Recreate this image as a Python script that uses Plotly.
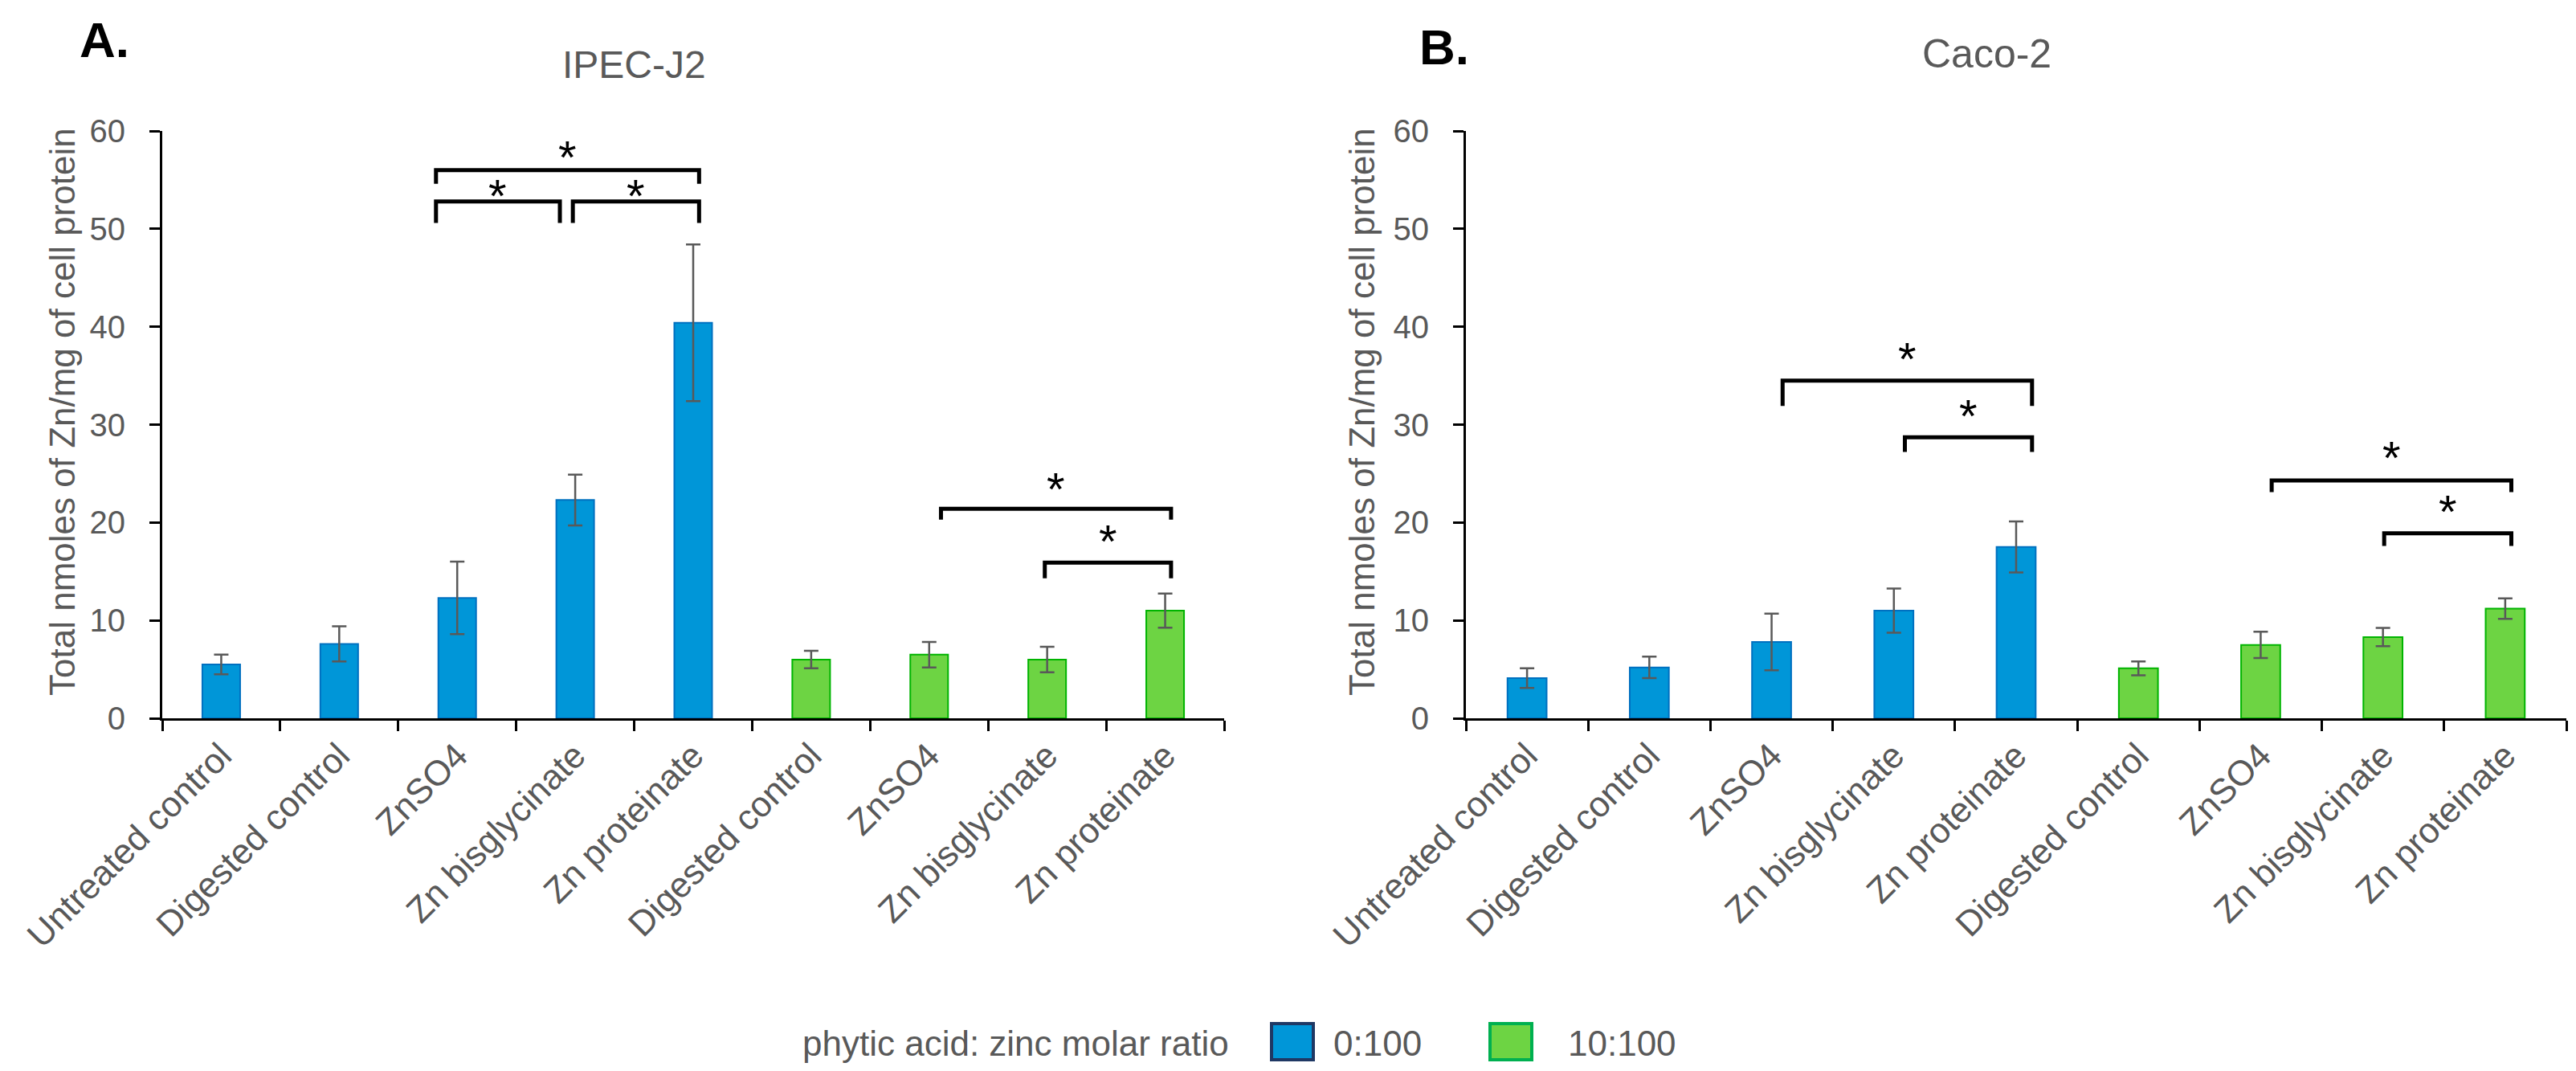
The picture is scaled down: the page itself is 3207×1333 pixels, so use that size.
import plotly.graph_objects as go

# categories (same order in both panels)
labels = ['Untreated control', 'Digested control', 'ZnSO4', 'Zn bisglycinate', 'Zn proteinate',
          'Digested control', 'ZnSO4', 'Zn bisglycinate', 'Zn proteinate']
x_blue = [0, 1, 2, 3, 4]
x_green = [5, 6, 7, 8]

# IPEC-J2
ipec_blue = [5.5, 7.6, 12.3, 22.3, 40.4]
ipec_blue_err = [1.0, 1.8, 3.7, 2.6, 8.0]
ipec_green = [6.0, 6.5, 6.0, 11.0]
ipec_green_err = [0.9, 1.3, 1.3, 1.75]

# Caco-2
caco_blue = [4.1, 5.2, 7.8, 11.0, 17.5]
caco_blue_err = [1.0, 1.1, 2.9, 2.25, 2.6]
caco_green = [5.1, 7.5, 8.3, 11.2]
caco_green_err = [0.7, 1.35, 0.93, 1.05]

# significance brackets: (left x, right x, height, leg length, star height)
ipec_brackets = [(1.82, 4.05, 56.0, 1.4, 57.9), (1.82, 2.87, 52.8, 2.2, 54.0),
                 (2.98, 4.05, 52.8, 2.2, 54.0), (6.10, 8.05, 21.4, 1.1, 24.0),
                 (6.98, 8.05, 15.9, 1.6, 18.7)]
caco_brackets = [(2.09, 4.13, 34.5, 2.6, 37.3), (3.09, 4.13, 28.7, 1.5, 31.5),
                 (6.09, 8.05, 24.3, 1.2, 27.2), (7.01, 8.05, 18.9, 1.3, 21.7)]

BLUE = '#0096D8'
BLUE_EDGE = '#0070C0'
GREEN = '#6DD443'
GREEN_EDGE = '#00B400'
GRAY = '#595959'
FONT = 'Liberation Sans, Arial, sans-serif'

W, H = 3207, 1333

fig = go.Figure()


def add_bars(xs, ys, errs, color, edge, xa, ya, name):
    fig.add_trace(go.Bar(x=xs, y=ys, width=0.32, name=name, showlegend=False,
                         marker=dict(color=color, line=dict(color=edge, width=2)),
                         error_y=dict(type='data', array=errs, color=GRAY, thickness=2.5, width=9),
                         xaxis=xa, yaxis=ya))


add_bars(x_blue, ipec_blue, ipec_blue_err, BLUE, BLUE_EDGE, 'x', 'y', '0:100')
add_bars(x_green, ipec_green, ipec_green_err, GREEN, GREEN_EDGE, 'x', 'y', '10:100')
add_bars(x_blue, caco_blue, caco_blue_err, BLUE, BLUE_EDGE, 'x2', 'y2', '0:100')
add_bars(x_green, caco_green, caco_green_err, GREEN, GREEN_EDGE, 'x2', 'y2', '10:100')

annotations = []


def add_brackets(brackets, xa, ya):
    for x0, x1, h, leg, star in brackets:
        fig.add_trace(go.Scatter(x=[x0, x0, x1, x1], y=[h - leg, h, h, h - leg], mode='lines',
                                 line=dict(color='black', width=5), showlegend=False,
                                 hoverinfo='skip', xaxis=xa, yaxis=ya))
        annotations.append(dict(x=(x0 + x1) / 2, y=star - 0.6, xref=xa, yref=ya, text='*',
                                showarrow=False, font=dict(size=58, color='black', family=FONT)))


add_brackets(ipec_brackets, 'x', 'y')
add_brackets(caco_brackets, 'x2', 'y2')

xaxis_style = dict(range=[-0.5, 8.5], tickmode='array', tickvals=list(range(9)), ticktext=labels,
                   tickangle=-45, tickfont=dict(size=44, color=GRAY, family=FONT),
                   showline=True, linecolor='black', linewidth=3, ticks='', showgrid=False,
                   zeroline=False, automargin=False,
                   minor=dict(ticks='outside', tick0=-0.5, dtick=1, ticklen=13,
                              tickwidth=3, tickcolor='black'))
yaxis_style = dict(range=[0, 60], dtick=10, tickfont=dict(size=40, color=GRAY, family=FONT),
                   showline=True, linecolor='black', linewidth=3, ticks='outside', ticklen=13,
                   tickwidth=3, tickcolor='black', showgrid=False, zeroline=False,
                   automargin=False, ticklabelstandoff=22)

y_dom = [1 - 886 / H, 1 - 155 / H]
fig.update_layout(
    width=W, height=H, margin=dict(l=0, r=0, t=0, b=0),
    plot_bgcolor='white', paper_bgcolor='white', showlegend=False,
    font=dict(family=FONT, color=GRAY),
    xaxis=dict(domain=[194 / W, 1516 / W], anchor='y', **xaxis_style),
    yaxis=dict(domain=y_dom, anchor='x', **yaxis_style),
    xaxis2=dict(domain=[1817 / W, 3187 / W], anchor='y2', **xaxis_style),
    yaxis2=dict(domain=y_dom, anchor='x2', **yaxis_style),
)

ytitle = 'Total nmoles of Zn/mg of cell protein'
paper_text = [
    (122 / W, 1 - 42 / H, 'A.', 62, 'black', True, 0),
    (1790 / W, 1 - 50 / H, 'B.', 62, 'black', True, 0),
    (781 / W, 1 - 72 / H, 'IPEC-J2', 48, GRAY, False, 0),
    (2465 / W, 1 - 59 / H, 'Caco-2', 50, GRAY, False, 0),
    (70 / W, 1 - 505 / H, ytitle, 44, GRAY, False, -90),
    (1688 / W, 1 - 505 / H, ytitle, 44, GRAY, False, -90),
]
for x, y, t, size, color, bold, ang in paper_text:
    annotations.append(dict(x=x, y=y, xref='paper', yref='paper', text='<b>%s</b>' % t if bold else t,
                            showarrow=False, textangle=ang, xanchor='center', yanchor='middle',
                            font=dict(size=size, color=color, family=FONT)))

# legend drawn by hand so the swatches can be as large as in the original
leg_y = 1 - 1290 / H
legend_items = [(1524, 'right', 'phytic acid: zinc molar ratio'),
                (1650, 'left', '0:100'),
                (1942, 'left', '10:100')]
for lx, anchor, t in legend_items:
    annotations.append(dict(x=lx / W, y=leg_y, xref='paper', yref='paper', xanchor=anchor,
                            yanchor='middle', showarrow=False, text=t,
                            font=dict(size=44, color=GRAY, family=FONT)))
shapes = [
    dict(type='rect', xref='paper', yref='paper', x0=1575 / W, x1=1627 / W,
         y0=1 - 1311 / H, y1=1 - 1266 / H, fillcolor=BLUE, line=dict(color='#1F3864', width=4)),
    dict(type='rect', xref='paper', yref='paper', x0=1847 / W, x1=1899 / W,
         y0=1 - 1311 / H, y1=1 - 1266 / H, fillcolor=GREEN, line=dict(color='#00B050', width=4)),
]

fig.update_layout(annotations=annotations, shapes=shapes)
fig.write_html('out.html')
